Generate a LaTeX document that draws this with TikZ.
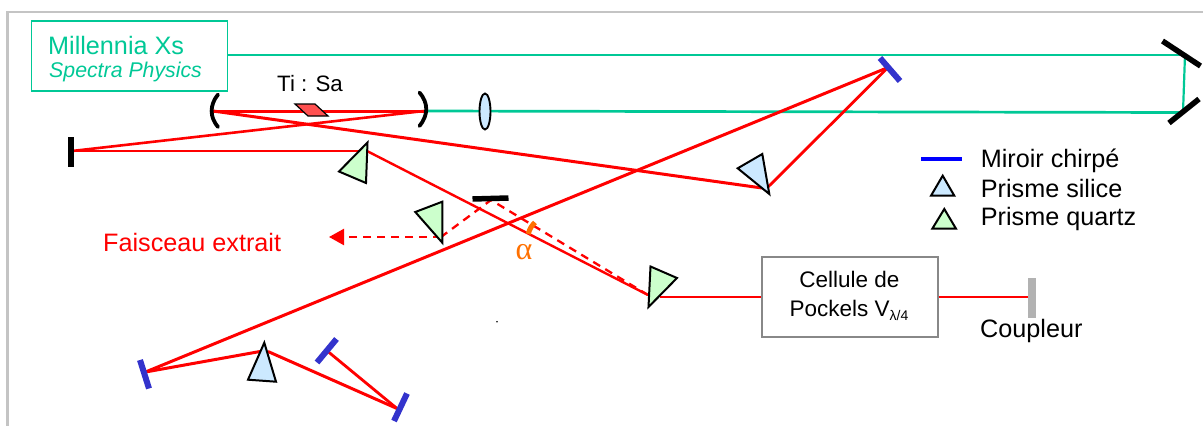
\documentclass[tikz,border=0pt]{standalone}
\usepackage{fontspec}
\setmainfont{Liberation Sans}
\newfontfamily\alphafont{Liberation Serif}
\usetikzlibrary{arrows.meta}
\definecolor{framegray}{HTML}{C4C4C4}
\definecolor{pumpgreen}{HTML}{00C896}
\definecolor{beamred}{HTML}{FF0000}
\definecolor{silice}{HTML}{CCE9FF}
\definecolor{quartz}{HTML}{CCFFCC}
\definecolor{chirped}{HTML}{3333CC}
\definecolor{crystal}{HTML}{FF5050}
\definecolor{cellgray}{HTML}{888888}
\definecolor{couplergray}{HTML}{B2B2B2}
\definecolor{alphaorange}{HTML}{FF7000}
\tikzset{
  pump/.style={draw=pumpgreen,line width=2.7pt},
  beam/.style={draw=beamred,line width=3pt},
  thinbeam/.style={draw=beamred,line width=2.4pt},
  dashbeam/.style={draw=beamred,line width=2.3pt,dash pattern=on 8pt off 6pt},
  chirpmirror/.style={draw=chirped,line width=6pt},
  blackmirror/.style={draw=black,line width=5.5pt},
  curvedmirror/.style={draw=black,line width=3.8pt,line cap=round},
  prismS/.style={draw=black,fill=silice,line width=2pt,line join=miter},
  prismQ/.style={draw=black,fill=quartz,line width=2pt,line join=miter},
  lbl/.style={anchor=base west,inner sep=0pt,font=\fontsize{25.2}{28}\selectfont},
  celltxt/.style={anchor=base,inner sep=0pt,font=\fontsize{22.5}{26}\selectfont},
}
\begin{document}
\begin{tikzpicture}[x=1pt,y=-1pt]
\useasboundingbox (0,0) rectangle (1203,426);
% frame
\coordinate (fA) at (7.5,426); \coordinate (fB) at (7.5,12); \coordinate (fC) at (1203,12);
\draw[framegray,line width=2.6pt] (fA) -- (fB) -- (fC);
% boxes
\node (laser) at (129.5,56) [draw=pumpgreen,line width=1.9pt,minimum width=196pt,minimum height=70pt,inner sep=0pt] {};
\node (cell) at (849.5,296.75) [draw=cellgray,line width=2pt,minimum width=176pt,minimum height=80.5pt,inner sep=0pt] {};
\node (laserA) at (48,54) [lbl,text=pumpgreen] {Millennia Xs};
\node (laserB) at (49,77) [lbl,text=pumpgreen,font=\fontsize{21.3}{24}\selectfont\itshape] {Spectra Physics};
\node (cellA) at (849.5,287.5) [celltxt] {Cellule de};
\node (cellB) at (849,316) [celltxt] {Pockels V\raisebox{-4pt}{\fontsize{14}{14}\selectfont λ/4}};
% coordinates of optics
\coordinate (pumpTop) at (1185,55);
\coordinate (pumpBot) at (1183,112.5);
\coordinate (pumpL) at (228,55);
\coordinate (M1) at (213,111);
\coordinate (M2) at (424,111);
\coordinate (endM) at (72,151);
\coordinate (pq1) at (367,151);
\coordinate (pq1o) at (367,151);
\coordinate (pq3) at (648,295);
\coordinate (pq3o) at (660,296.7);
\coordinate (cplr) at (1032,297);
\coordinate (ps1) at (762,188);
\coordinate (ps1o) at (768,187);
\coordinate (cm1) at (888,67.5);
\coordinate (cm2) at (145.5,372);
\coordinate (ps2a) at (260,351.5);
\coordinate (ps2b) at (268,351.5);
\coordinate (cm3) at (397,408.5);
\coordinate (cm4) at (328.5,352);
\coordinate (bm) at (491,200);
\coordinate (pq2) at (441,237);
\coordinate (arrowtip) at (329,237);
% pump beam
\draw[pump] (pumpL) -- (pumpTop);
\draw[draw=pumpgreen,line width=2.2pt] (pumpTop) -- (pumpBot);
\draw[pump] (pumpBot) -- (M2);
% red beams
\draw[beam] (M1) -- (M2);
\draw[beam] (M1) -- (ps1);
\draw[thinbeam,line width=2.6pt] (M2) -- (endM);
\draw[thinbeam] (endM) -- (pq1);
\draw[thinbeam] (pq1o) -- (pq3);
\draw[thinbeam] (pq3o) -- (cell.west |- pq3o);
\draw[thinbeam] (cell.east |- cplr) -- (cplr);
\draw[thinbeam,line width=2.8pt] (ps1o) -- (cm1);
\draw[beam] (cm1) -- (cm2);
\draw[beam] (cm2) -- (ps2a);
\draw[beam] (ps2b) -- (cm3);
\draw[thinbeam,line width=2.8pt] (cm3) -- (cm4);
% extracted beam
\draw[dashbeam] (pq3) -- (bm) -- (pq2);
\draw[dashbeam,-{Triangle[length=15pt,width=16pt]}] (pq2) -- (arrowtip);
% crystal
\draw[draw=black,fill=crystal,line width=1.2pt] (295,104) -- (315,104) -- (328,116) -- (308,116) -- cycle;
% curved mirrors
\draw[curvedmirror] (218,94.5) .. controls (209.5,105) and (209.5,117) .. (218,127);
\draw[curvedmirror] (419.5,92.5) .. controls (428.5,103) and (428.5,115) .. (419.5,126);
% lens
\draw[draw=black,fill=silice,line width=1.9pt] (485,111.5) ellipse [x radius=5.5pt,y radius=18pt];
% flat mirrors
\draw[blackmirror] (71,137) -- (71,167);
\draw[blackmirror] (1162.5,41) -- (1200.5,66);
\draw[blackmirror] (1199,99) -- (1169,123);
\draw[blackmirror] (472.5,199) -- (508.5,198);
\draw[chirpmirror] (880,58) -- (900,81);
\draw[chirpmirror] (140,360) -- (149,388.5);
\draw[chirpmirror] (336.5,339) -- (317,362.5);
\draw[chirpmirror] (407,393.5) -- (394,421);
\draw[draw=couplergray,line width=7.5pt] (1032,278) -- (1032,317.5);
% prisms
\draw[prismQ] (367.5,142.5) -- (339,171.5) -- (366,183) -- cycle;
\draw[prismQ] (442.3,201.7) -- (415.3,212) -- (442.3,242.7) -- cycle;
\draw[prismQ] (650.5,266.5) -- (677,278) -- (648.5,307) -- cycle;
\draw[prismS] (762.3,154) -- (737.7,168.3) -- (769.3,194) -- cycle;
\draw[prismS] (264.3,342.7) -- (248,379.7) -- (276,381.7) -- cycle;
% alpha mark
\draw[draw=alphaorange,line width=5pt] (528.3,234) .. controls (529.5,229) and (532,225) .. (535,222.5);
\node (alpha) at (515.5,259.5) [anchor=base west,inner sep=0pt,text=alphaorange,font=\alphafont\fontsize{32}{34}\selectfont] {α};
% speck
\fill[black] (497,321.7) circle (0.8pt);
% labels
\node (tisa) at (277,91) [lbl,font=\fontsize{22.3}{26}\selectfont] {Ti : Sa};
\node (extrait) at (103,251) [lbl,text=beamred] {Faisceau extrait};
\node (coupleur) at (980,337) [lbl] {Coupleur};
% legend
\coordinate (legA) at (921,159); \coordinate (legB) at (962,159);
\draw[draw=blue,line width=4pt] (legA) -- (legB);
\draw[prismS] (942.7,175.7) -- (931,195.7) -- (954.3,195.7) -- cycle;
\draw[prismQ] (944.3,209) -- (932.3,228.7) -- (956,228.7) -- cycle;
\node (leg1) at (980.7,167.2) [lbl] {Miroir chirpé};
\node (leg2) at (980.7,197.2) [lbl] {Prisme silice};
\node (leg3) at (980.7,225.2) [lbl] {Prisme quartz};
\end{tikzpicture}
\end{document}
